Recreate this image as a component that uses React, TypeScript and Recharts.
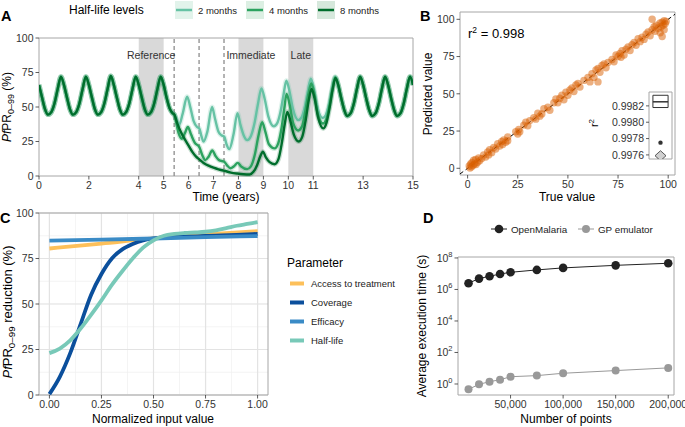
import React from 'react';
import {
  LineChart, Line, XAxis, YAxis, ReferenceArea, ReferenceLine,
  ScatterChart, Scatter, CartesianGrid,
} from 'recharts';

type Pt = [number, number];

const FONT = '"Liberation Sans", Arial, Helvetica, sans-serif';
const TICK = { fontSize: 10.5, fill: '#333', fontFamily: FONT };
const TICKLINE = { stroke: '#333', strokeWidth: 0.8 };
const FRAME = '#a6a6a6';

// ---------------- Panel A : PfPR time series ----------------
const timeTicks = [0, 2, 4, 5, 6, 7, 8, 9, 10, 11, 13, 15];
const pctTicks = [0, 25, 50, 75, 100];
const periodBands: [number, number, string][] = [[4, 5, 'Reference'], [8, 9, 'Immediate'], [10, 11, 'Late']];
const switchYears = [5.42, 6.42, 7.42];

const sharedStart: Pt[] = [
  [0, 66], [0.12, 57], [0.24, 48.5], [0.36, 44.5], [0.5, 46.5], [0.62, 52.5], [0.75, 63], [0.88, 72],
  [1, 66], [1.12, 57], [1.24, 48.5], [1.36, 44.5], [1.5, 46.5], [1.62, 52.5], [1.75, 63], [1.88, 72],
  [2, 66], [2.12, 57], [2.24, 48.5], [2.36, 44.5], [2.5, 46.5], [2.62, 52.5], [2.75, 63], [2.88, 72.5],
  [3, 66], [3.12, 57], [3.24, 48.5], [3.36, 44.5], [3.5, 46.5], [3.62, 52.5], [3.75, 63], [3.88, 72],
  [4, 66], [4.12, 57], [4.24, 48.5], [4.36, 44.5], [4.5, 46.5], [4.62, 52.5], [4.75, 63], [4.88, 72],
  [5, 66], [5.12, 56.5], [5.24, 49], [5.36, 45.5], [5.43, 44.5],
];
const sharedEnd: Pt[] = [
  [12, 66], [12.12, 56.5], [12.24, 48], [12.36, 43.5], [12.5, 45.5], [12.62, 52], [12.75, 63], [12.88, 72],
  [13, 66], [13.12, 56.5], [13.24, 48], [13.36, 43.5], [13.5, 45.5], [13.62, 52], [13.75, 63], [13.88, 72],
  [14, 66], [14.12, 56.5], [14.24, 48], [14.36, 43.5], [14.5, 45.5], [14.62, 52], [14.75, 63], [14.88, 72],
  [15, 66],
];
const halfLife2: Pt[] = [
  [5.5, 42], [5.62, 37], [5.76, 45], [5.94, 57.5], [6.06, 50.5], [6.2, 40], [6.34, 35.5], [6.43, 34.5],
  [6.52, 28.5], [6.6, 25], [6.75, 32], [6.94, 50], [7.06, 41.5], [7.2, 32], [7.32, 29.5], [7.43, 28.5],
  [7.52, 23], [7.63, 19.5], [7.8, 30], [7.96, 45.5], [8.08, 37], [8.22, 29], [8.35, 26], [8.5, 29],
  [8.64, 38], [8.78, 52], [8.92, 63.5], [9.05, 56], [9.2, 43], [9.42, 36], [9.56, 38.5], [9.68, 46],
  [9.8, 58], [9.92, 69], [10.04, 62], [10.18, 49], [10.4, 40.5], [10.53, 42.5], [10.66, 50], [10.78, 61],
  [10.9, 70.5], [11.02, 63.5], [11.16, 50], [11.38, 42], [11.5, 44], [11.62, 51], [11.75, 63], [11.88, 72],
];
const halfLife4: Pt[] = [
  [5.5, 39], [5.6, 31], [5.73, 27], [5.85, 31], [5.97, 35.5], [6.1, 30], [6.25, 24], [6.43, 21],
  [6.55, 15], [6.67, 11.5], [6.8, 14], [6.95, 18.5], [7.08, 14.5], [7.22, 11.5], [7.43, 10.3], [7.55, 7.5],
  [7.68, 5.6], [7.82, 7], [7.97, 9.5], [8.1, 7], [8.35, 5], [8.5, 7], [8.65, 15], [8.8, 29],
  [8.95, 39], [9.08, 32], [9.22, 23], [9.45, 20], [9.6, 24], [9.73, 35], [9.84, 49], [9.93, 59.5],
  [10.05, 52], [10.2, 38], [10.4, 33], [10.55, 36], [10.68, 47], [10.8, 59], [10.92, 67], [11.04, 60],
  [11.18, 45], [11.39, 38], [11.52, 41], [11.64, 50], [11.77, 63], [11.88, 71.5],
];
const halfLife8: Pt[] = [
  [5.55, 38], [5.7, 31.5], [5.85, 26.5], [5.97, 23], [6.15, 17.5], [6.3, 14], [6.43, 12], [6.6, 9.5],
  [6.8, 7.5], [7.0, 6], [7.2, 4.8], [7.43, 3.8], [7.7, 2.5], [7.95, 1.8], [8.2, 1.3], [8.45, 1.1],
  [8.6, 3], [8.75, 8], [8.88, 14.5], [8.98, 17.6], [9.1, 13.5], [9.25, 10], [9.45, 8.5], [9.6, 12],
  [9.74, 24], [9.86, 38], [9.96, 46.5], [10.08, 40], [10.22, 30], [10.42, 25], [10.56, 28.5], [10.7, 41],
  [10.82, 55], [10.93, 63], [11.05, 56.5], [11.2, 42], [11.4, 34.5], [11.53, 38.5], [11.66, 50], [11.78, 63],
  [11.89, 71],
];
const halfLifeNames = ['2 months', '4 months', '8 months'];
const halfLifeColors = ['#66c2a4', '#2ca25f', '#006d2c'];
const halfLifeKeyFills = ['#e2f3eb', '#dcefe3', '#d6e8dc'];
const halfLifeSeries = [halfLife2, halfLife4, halfLife8];

const toTimeRows = (mid: Pt[]) =>
  [...sharedStart, ...mid, ...sharedEnd].map(([t, v]) => ({ t, v }));

// ---------------- Panel B : emulator fit ----------------
const fitTicks = [0, 25, 50, 75, 100];
const emulatorFit: Pt[] = [
  [0.8, 1.5], [1.2, 0.2], [1.5, 3], [2, 1], [2.2, 4], [2.8, 2], [3, 5.5], [3.5, 3], [4, 6], [4.2, 2.5],
  [5, 4], [5.5, 7], [6, 5], [7, 6.5], [8, 9], [9, 7.5], [10, 11], [10.5, 9], [11, 12.5], [12, 10.5],
  [13, 14], [14, 13], [15, 16.5], [16, 15], [17, 18], [17.5, 16], [18, 19], [19, 17.5], [20, 21], [20, 18.5],
  [24, 24.5], [25, 23], [25.5, 26], [26, 24.5], [28, 29], [29, 31], [30, 28.5], [31, 32], [33, 34], [34, 33],
  [35, 37], [36, 35], [37, 36.5], [38, 40], [40, 41], [41, 39], [43, 44], [44, 46.5], [45, 44], [46, 47],
  [47, 49], [48, 46], [49, 51], [50, 49], [51, 52.5], [52, 54], [53, 51.5], [54, 56], [55, 57], [56, 54.5],
  [58, 59], [60, 61], [61, 58], [62, 63.5], [63, 61], [64, 66], [65, 58], [65, 67], [66, 64.5], [67, 69],
  [68, 70], [69, 67.5], [70, 71], [72, 73], [73, 71.5], [74, 76], [75, 75], [76, 77], [76.5, 74.5], [77, 79],
  [78, 76], [79, 80], [80, 81.5], [81, 79], [82, 83], [83, 84.5], [84, 82.5], [85, 87], [86, 85], [87, 88],
  [88, 86.5], [89, 90], [90, 91.5], [91, 89], [92, 93], [93, 95], [93.5, 92], [94, 96], [95, 94], [96, 97.5],
  [96.5, 95], [97, 98], [97.5, 96], [98, 99], [98, 93], [97, 88.5], [96, 91], [98.5, 97], [99, 98.5], [92, 100],
];
const r2Ticks = [0.9976, 0.9978, 0.998, 0.9982];
const r2Box = { low: 0.99818, median: 0.99825, high: 0.99833 };
const r2Outlier = 0.99775;
const r2Diamond = 0.99759;

// ---------------- Panel C : sensitivity ----------------
const normTicks = [0, 0.25, 0.5, 0.75, 1];
const normMinor = [0, 0.125, 0.25, 0.375, 0.5, 0.625, 0.75, 0.875, 1];
const redMinor = [0, 12.5, 25, 37.5, 50, 62.5, 75, 87.5, 100];
const accessToTreatment: Pt[] = [[0, 80.5], [0.25, 83.2], [0.5, 86], [0.75, 88.2], [1, 90]];
const coverage: Pt[] = [
  [0, 0.5], [0.05, 10], [0.1, 23], [0.15, 39], [0.2, 55], [0.25, 66.5], [0.3, 75], [0.35, 80],
  [0.4, 83], [0.45, 85], [0.5, 86], [0.6, 86.8], [0.7, 87.2], [0.8, 87.6], [0.9, 88], [1, 88.5],
];
const efficacy: Pt[] = [[0, 84.8], [0.25, 85.4], [0.5, 86], [0.75, 86.7], [1, 87.3]];
const halfLife: Pt[] = [
  [0, 23], [0.05, 25.5], [0.1, 30], [0.15, 36.5], [0.2, 44], [0.25, 52], [0.3, 60.5], [0.35, 68],
  [0.4, 75], [0.45, 81], [0.5, 85], [0.55, 87.5], [0.6, 88.5], [0.65, 89], [0.7, 89.3], [0.75, 89.7],
  [0.8, 90.5], [0.85, 91.7], [0.9, 93], [0.95, 94], [1, 95],
];
const paramNames = ['Access to treatment', 'Coverage', 'Efficacy', 'Half-life'];
const paramColors = ['#fdc05a', '#0b4f9c', '#3a8bc6', '#78c9b8'];
const paramSeries = [accessToTreatment, coverage, efficacy, halfLife];

// ---------------- Panel D : execution time ----------------
const nPoints = [10000, 20000, 30000, 40000, 50000, 75000, 100000, 150000, 200000];
const openMalariaTime = [2.5e6, 4.9e6, 6.9e6, 9.5e6, 1.23e7, 1.74e7, 2.34e7, 3.4e7, 4.6e7];
const gpEmulatorTime = [0.46, 0.95, 1.4, 1.86, 2.9, 3.4, 4.8, 7.1, 10.5];
const nTicks = [50000, 100000, 150000, 200000];
const timeLogTicks = [1, 100, 1e4, 1e6, 1e8];
const timeRows = (vals: number[]) => nPoints.map((n, i) => ({ n, v: vals[i] }));

const PowTick = (props: any) => {
  const { x, y, payload } = props;
  const e = Math.round(Math.log10(payload.value));
  return (
    <text x={x} y={y} dy={4} textAnchor="end" fontSize={10.5} fill="#333" fontFamily={FONT}>
      <tspan>10</tspan>
      <tspan dy={-5} fontSize={7.5}>{e}</tspan>
    </text>
  );
};

const PfLabel = ({ x, y, rest, size = 12 }: { x: number; y: number; rest: string; size?: number }) => (
  <text x={x} y={y} transform={`rotate(-90 ${x} ${y})`} textAnchor="middle" fontSize={size} fill="#000">
    <tspan fontStyle="italic">Pf</tspan>
    <tspan>PR</tspan>
    <tspan fontSize={size * 0.75} dy={3}>0–99</tspan>
    <tspan dy={-3}>{rest}</tspan>
  </text>
);

const abs = (left: number, top: number): React.CSSProperties => ({ position: 'absolute', left, top });

export default function App() {
  return (
    <div style={{ position: 'absolute', left: 0, top: 0, width: 685, height: 427, background: '#fff', fontFamily: FONT, overflow: 'hidden' }}>
      {/* Panel A */}
      <div style={abs(0, 0)}>
        <LineChart width={420} height={210} margin={{ top: 38, right: 7, bottom: 0, left: 0 }}>
          <XAxis type="number" dataKey="t" domain={[0, 15]} ticks={timeTicks} interval={0} allowDataOverflow
            height={34} tickSize={3.5} tickMargin={2} axisLine={false} tick={TICK} tickLine={TICKLINE} />
          <YAxis type="number" domain={[0, 100]} ticks={pctTicks} interval={0} width={39}
            tickSize={3.5} tickMargin={2} axisLine={false} tick={TICK} tickLine={TICKLINE} />
          {periodBands.map(([a, b, name]) => (
            <ReferenceArea key={name} x1={a} x2={b} y1={0} y2={100} fill="#d9d9d9" fillOpacity={1} stroke="none"
              label={{ value: name, position: 'insideTop', offset: 14, fontSize: 10.5, fill: '#333' }} />
          ))}
          {switchYears.map((s) => (
            <ReferenceLine key={s} x={s} stroke="#8c8c8c" strokeWidth={1.3} strokeDasharray="4 3" />
          ))}
          {halfLifeSeries.map((s, i) => (
            <Line key={'halo' + i} data={toTimeRows(s)} dataKey="v" type="monotone" stroke={halfLifeColors[i]}
              strokeOpacity={0.22} strokeWidth={5} dot={false} activeDot={false} isAnimationActive={false} />
          ))}
          {halfLifeSeries.map((s, i) => (
            <Line key={'line' + i} data={toTimeRows(s)} dataKey="v" type="monotone" stroke={halfLifeColors[i]}
              strokeWidth={2.4} dot={false} activeDot={false} isAnimationActive={false} />
          ))}
          <ReferenceArea x1={0} x2={15} y1={0} y2={100} fill="none" stroke={FRAME} strokeWidth={1} />
        </LineChart>
      </div>

      {/* Panel B */}
      <div style={abs(420, 0)}>
        <ScatterChart width={265} height={210} margin={{ top: 12, right: 10, bottom: 0, left: 0 }}>
          <XAxis type="number" dataKey="x" domain={[-3.8, 103.4]} ticks={fitTicks} interval={0} allowDataOverflow
            height={35} tickSize={3.5} tickMargin={2} axisLine={false} tick={TICK} tickLine={TICKLINE} />
          <YAxis type="number" dataKey="y" domain={[-4.5, 104.9]} ticks={fitTicks} interval={0} allowDataOverflow
            width={40} tickSize={3.5} tickMargin={2} axisLine={false} tick={TICK} tickLine={TICKLINE} />
          <Scatter data={emulatorFit.map(([x, y]) => ({ x, y }))} isAnimationActive={false}
            shape={(p: any) => <circle cx={p.cx} cy={p.cy} r={3.7} fill="#d95f02" fillOpacity={0.5} />} />
          <ReferenceLine segment={[{ x: -3.8, y: -3.8 }, { x: 103.4, y: 103.4 }]} stroke="#000" strokeWidth={1}
            strokeDasharray="4 3" ifOverflow="hidden" />
          <ReferenceArea x1={-3.8} x2={103.4} y1={-4.5} y2={104.9} fill="none" stroke={FRAME} strokeWidth={1} />
        </ScatterChart>
      </div>

      {/* Panel B inset */}
      <div style={abs(600, 85)}>
        <ScatterChart width={80} height={80} margin={{ top: 7, right: 8, bottom: 6, left: 0 }}>
          <XAxis type="number" dataKey="x" domain={[0, 1]} hide />
          <YAxis type="number" dataKey="y" domain={[0.99755, 0.99837]} ticks={r2Ticks} interval={0} allowDataOverflow
            width={49} tickSize={3} tickMargin={2} axisLine={false} tick={TICK} tickLine={TICKLINE}
            tickFormatter={(v: number) => v.toFixed(4)} />
          <ReferenceArea x1={0} x2={1} y1={0.99755} y2={0.99837} fill="#fff" fillOpacity={1} stroke={FRAME} strokeWidth={1} />
          <ReferenceArea x1={0.17} x2={0.83} y1={r2Box.low} y2={r2Box.high} fill="#fff" fillOpacity={1} stroke="#333" strokeWidth={1} />
          <ReferenceLine segment={[{ x: 0.17, y: r2Box.median }, { x: 0.83, y: r2Box.median }]} stroke="#333" strokeWidth={1.5} />
          <ReferenceLine segment={[{ x: 0.5, y: 0.99755 }, { x: 0.5, y: r2Diamond }]} stroke="#333" strokeWidth={0.8} />
          <Scatter data={[{ x: 0.5, y: r2Outlier }]} isAnimationActive={false}
            shape={(p: any) => <circle cx={p.cx} cy={p.cy} r={2.2} fill="#333" />} />
          <Scatter data={[{ x: 0.5, y: r2Diamond }]} isAnimationActive={false}
            shape={(p: any) => (
              <path d={`M${p.cx},${p.cy - 5} L${p.cx + 5.5},${p.cy} L${p.cx},${p.cy + 5} L${p.cx - 5.5},${p.cy} Z`}
                fill="#d0d0d0" stroke="#333" strokeWidth={0.8} />
            )} />
        </ScatterChart>
      </div>

      {/* Panel C */}
      <div style={abs(0, 205)}>
        <LineChart width={280} height={222} margin={{ top: 8, right: 12, bottom: 0, left: 0 }}>
          <CartesianGrid verticalValues={normMinor} horizontalValues={redMinor} stroke="#efefef" strokeWidth={0.7} />
          <CartesianGrid verticalValues={normTicks} horizontalValues={pctTicks} stroke="#e3e3e3" strokeWidth={1.2} />
          <XAxis type="number" dataKey="x" domain={[-0.05, 1.05]} ticks={normTicks} interval={0} allowDataOverflow
            tickFormatter={(v: number) => v.toFixed(2)}
            height={32} tickSize={3.5} tickMargin={2} axisLine={false} tick={TICK} tickLine={TICKLINE} />
          <YAxis type="number" domain={[0, 100]} ticks={pctTicks} interval={0} width={39}
            tickSize={3.5} tickMargin={2} axisLine={false} tick={TICK} tickLine={TICKLINE} />
          {paramSeries.map((s, i) => (
            <Line key={paramNames[i]} data={s.map(([x, y]) => ({ x, y }))} dataKey="y" type="monotone"
              stroke={paramColors[i]} strokeWidth={3.8} dot={false} activeDot={false} isAnimationActive={false} />
          ))}
          <ReferenceArea x1={-0.05} x2={1.05} y1={0} y2={100} fill="none" stroke={FRAME} strokeWidth={1} />
        </LineChart>
      </div>

      {/* Panel D */}
      <div style={abs(400, 240)}>
        <LineChart width={285} height={187} margin={{ top: 17, right: 11, bottom: 0, left: 0 }}>
          <XAxis type="number" dataKey="n" domain={[0, 205500]} ticks={nTicks} interval={0} allowDataOverflow
            tickFormatter={(v: number) => v.toLocaleString('en-US')}
            height={32} tickSize={3.5} tickMargin={2} axisLine={false} tick={TICK} tickLine={TICKLINE} />
          <YAxis type="number" scale="log" domain={[0.2, 1.15e8]} ticks={timeLogTicks} interval={0} allowDataOverflow
            width={58} tickSize={3.5} tickMargin={2} axisLine={false} tick={<PowTick />} tickLine={TICKLINE} />
          <Line data={timeRows(openMalariaTime)} dataKey="v" stroke="#222" strokeWidth={1}
            dot={{ r: 4.3, fill: '#222', stroke: '#222', strokeWidth: 0 }} activeDot={false} isAnimationActive={false} />
          <Line data={timeRows(gpEmulatorTime)} dataKey="v" stroke="#999" strokeWidth={1}
            dot={{ r: 4, fill: '#999', stroke: '#999', strokeWidth: 0 }} activeDot={false} isAnimationActive={false} />
          <ReferenceArea x1={0} x2={205500} y1={0.2} y2={1.15e8} fill="none" stroke={FRAME} strokeWidth={1} />
        </LineChart>
      </div>

      {/* Text overlay: panel letters, titles, legends */}
      <svg width={685} height={427} style={{ position: 'absolute', left: 0, top: 0, pointerEvents: 'none' }} fontFamily={FONT}>
        <text x={1} y={21} fontSize={14.5} fontWeight="bold">A</text>
        <text x={420} y={21} fontSize={14.5} fontWeight="bold">B</text>
        <text x={0} y={223} fontSize={14.5} fontWeight="bold">C</text>
        <text x={423} y={223} fontSize={14.5} fontWeight="bold">D</text>

        {/* A legend */}
        <text x={69} y={14} fontSize={12} fill="#000">Half-life levels</text>
        {halfLifeNames.map((name, i) => (
          <g key={name}>
            <rect x={175 + i * 71} y={1} width={18} height={18} fill={halfLifeKeyFills[i]} />
            <line x1={176 + i * 71} x2={192 + i * 71} y1={10} y2={10} stroke={halfLifeColors[i]} strokeWidth={2.5} />
            <text x={198 + i * 71} y={13.5} fontSize={9.5} fill="#222">{name}</text>
          </g>
        ))}

        {/* A axis titles */}
        <PfLabel x={11} y={107} rest="  (%)" />
        <text x={226} y={201} textAnchor="middle" fontSize={12}>Time (years)</text>

        {/* B */}
        <text x={432} y={94} transform="rotate(-90 432 94)" textAnchor="middle" fontSize={12}>Predicted value</text>
        <text x={567} y={201} textAnchor="middle" fontSize={12}>True value</text>
        <text x={468} y={38} fontSize={13}>r<tspan dy={-5} fontSize={8.5}>2</tspan><tspan dy={5}> = 0.998</tspan></text>
        <text x={598} y={123} transform="rotate(-90 598 123)" textAnchor="middle" fontSize={11}>r<tspan dy={-4} fontSize={8}>2</tspan></text>

        {/* C */}
        <PfLabel x={12} y={312} rest=" reduction (%)" size={13} />
        <text x={153} y={423} textAnchor="middle" fontSize={12}>Normalized input value</text>
        <text x={287} y={267} fontSize={12}>Parameter</text>
        {paramNames.map((name, i) => (
          <g key={name}>
            <line x1={290} x2={304} y1={283.5 + i * 19} y2={283.5 + i * 19} stroke={paramColors[i]} strokeWidth={4} />
            <text x={311} y={287 + i * 19} fontSize={9.5} fill="#222">{name}</text>
          </g>
        ))}

        {/* D */}
        <line x1={491} x2={507} y1={229} y2={229} stroke="#222" strokeWidth={1} />
        <circle cx={499} cy={229} r={4.3} fill="#222" />
        <text x={511} y={232.5} fontSize={9.8} fill="#222">OpenMalaria</text>
        <line x1={578} x2={594} y1={229} y2={229} stroke="#999" strokeWidth={1} />
        <circle cx={586} cy={229} r={4} fill="#999" />
        <text x={598} y={232.5} fontSize={9.8} fill="#222">GP emulator</text>
        <text x={426} y={326} transform="rotate(-90 426 326)" textAnchor="middle" fontSize={12}>Average execution time (s)</text>
        <text x={566} y={423} textAnchor="middle" fontSize={12}>Number of points</text>
      </svg>
    </div>
  );
}
